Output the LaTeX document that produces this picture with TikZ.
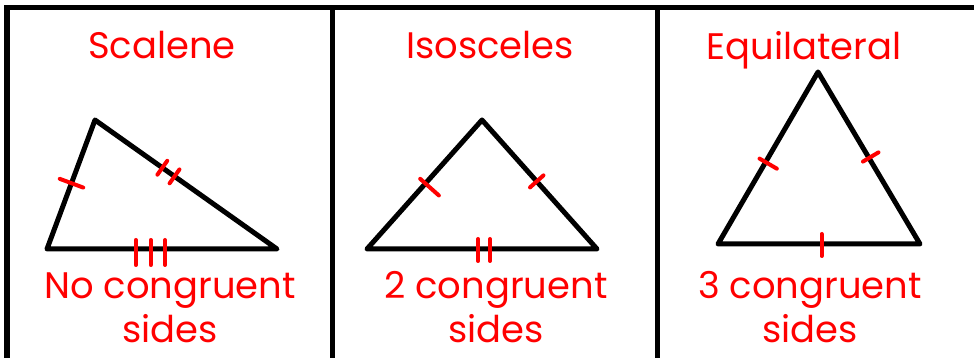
\documentclass[tikz,border=0pt]{standalone}
\usepackage{fontspec}
\setmainfont{Poppins}
\usepackage{tikz}
\usetikzlibrary{calc}
\definecolor{markred}{RGB}{255,0,0}

\begin{document}
\begin{tikzpicture}[
  frame/.style={line width=1.15mm},
  tri/.style={line width=1mm, line join=round, line cap=round},
  tick/.style={draw=markred, line width=0.8mm, line cap=round},
  title/.style={text=markred, font=\fontsize{21}{26}\selectfont, anchor=base},
  caption/.style={text=markred, font=\fontsize{21}{25.6}\selectfont, align=center, anchor=base}
]

\useasboundingbox (0,0) rectangle (19.48,7.16);

% panels
\draw[frame] (0.14,-0.05) rectangle (19.8,7.01);
\draw[frame] (6.65,-0.05) -- (6.65,7.01);
\draw[frame] (13.15,-0.05) -- (13.15,7.01);

% corners of the three triangles
\coordinate (sl) at (0.94,2.18);
\coordinate (sr) at (5.54,2.18);
\coordinate (st) at (1.90,4.76);
\coordinate (il) at (7.34,2.18);
\coordinate (ir) at (11.94,2.18);
\coordinate (it) at (9.64,4.76);
\coordinate (el) at (14.36,2.28);
\coordinate (er) at (18.40,2.28);
\coordinate (et) at (16.36,5.72);

\draw[tri] (sl) -- (sr) -- (st) -- cycle;
\draw[tri] (il) -- (ir) -- (it) -- cycle;
\draw[tri] (el) -- (er) -- (et) -- cycle;

% congruence marks: side / position / left / right
\foreach \p/\q/\t/\u/\d in {
  sl/st/0.51/0.25/0.25,
  st/sr/0.37/0.17/0.17, st/sr/0.437/0.17/0.17,
  sl/sr/0.386/0.18/0.32, sl/sr/0.451/0.18/0.32, sl/sr/0.513/0.18/0.32,
  il/it/0.508/0.14/0.36, it/ir/0.476/0.18/0.18,
  il/ir/0.483/0.2/0.24, il/ir/0.535/0.2/0.24,
  el/et/0.476/0.14/0.26, et/er/0.5/0.22/0.14,
  el/er/0.513/0.2/0.24}
  \draw[tick] ($(\p)!\t!(\q)!\u cm!90:(\q)$) -- ($(\p)!\t!(\q)!\d cm!-90:(\q)$);

\node[title] (t-scal) at (3.24,5.98) {Scalene};
\node[title] (t-isos) at (9.80,5.98) {Isosceles};
\node[title] (t-equi) at (16.08,5.96) {Equilateral};

% anchor=base sits on the last line
\node[caption] (c-scal) at (3.40,0.30) {No congruent\\sides};
\node[caption] (c-isos) at (9.92,0.30) {2 congruent\\sides};
\node[caption] (c-equi) at (16.20,0.30) {3 congruent\\sides};

\end{tikzpicture}
\end{document}
